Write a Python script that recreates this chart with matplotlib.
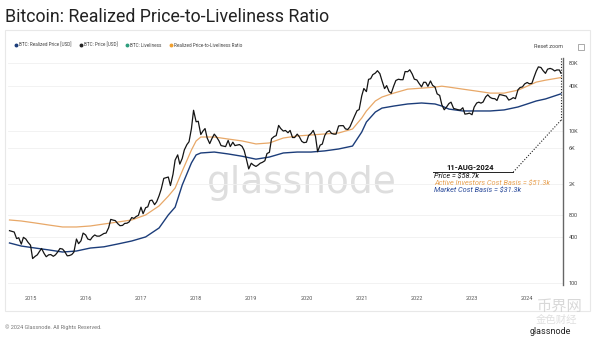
import matplotlib.pyplot as plt
import pandas as pd
from matplotlib.lines import Line2D
from matplotlib.patches import Rectangle

plt.rcParams['font.family'] = ['Roboto', 'Noto Sans CJK SC', 'DejaVu Sans']

# BTC price, semi-monthly (1st / 15th), Aug 2014 -> Aug 2024, last point 11-Aug-2024
price_dates = list(pd.date_range('2014-08-15', '2024-08-01', freq='SMS')) + [pd.Timestamp('2024-08-11')]
price = [490, 478, 470, 385, 395, 325, 400, 380, 345,
         315, 210, 225, 235, 260, 285, 245, 222, 235, 237, 225, 235, 258, 285, 280, 260, 228, 230, 237, 255, 380, 330, 360, 455,
         430, 380, 370, 405, 430, 415, 415, 430, 450, 455, 535, 690, 675, 665, 605, 570, 575, 610, 615, 640, 730, 710, 755, 780,
         1000, 820, 985, 1010, 1220, 1240, 1080, 1180, 1420, 1730, 2400, 2450, 2500, 1930, 2720, 4180, 4900, 3700, 4400, 5700, 6700, 7300, 10900, 19000,
         13400, 13600, 9100, 10100, 10900, 8200, 6900, 8000, 9200, 8500, 7500, 6500, 6400, 6300, 7600, 6300, 7200, 6500, 6600, 6700, 6350, 5600, 4200, 3200,
         3800, 3600, 3450, 3600, 3800, 3900, 4100, 5100, 5300, 8000, 8550, 8800, 12000, 10900, 10100, 10300, 9600, 10300, 8300, 8300, 9200, 8500, 7400, 7100,
         7200, 8800, 9400, 10300, 8600, 5400, 6600, 6800, 8800, 9800, 10200, 9400, 9200, 9200, 11800, 11900, 11900, 10800, 10600, 11500, 13800, 16000, 18800, 19400,
         29400, 36800, 33500, 48600, 49600, 56000, 58800, 63200, 57800, 46700, 36700, 40200, 33500, 31800, 39900, 47000, 48800, 48100, 48100, 61600, 61300, 65000, 57200, 48900,
         47700, 43100, 38700, 44500, 44400, 39300, 46300, 40500, 38500, 31300, 29800, 22500, 19300, 20800, 23300, 24300, 20100, 19700, 19300, 19100, 20500, 16900, 17100, 17400,
         16600, 20900, 23700, 24300, 23600, 24400, 28500, 30400, 28100, 27200, 27000, 25600, 30600, 30300, 29700, 29200, 25900, 26600, 27900, 27000, 35400, 37900, 38700, 42300,
         44200, 42500, 43000, 51800, 62400, 71000, 69700, 63400, 58300, 66200, 67800, 66200, 62700, 64700, 64600, 58700]

# cost basis lines
basis_dates = pd.to_datetime([
    "2014-08-15", "2014-11-01", "2015-02-01", "2015-05-01", "2015-08-01", "2015-11-01",
    "2016-02-01", "2016-05-01", "2016-08-01", "2016-11-01", "2017-02-01", "2017-05-01",
    "2017-07-01", "2017-08-15", "2017-10-01", "2017-12-01", "2018-01-01", "2018-02-01",
    "2018-05-01", "2018-08-01", "2018-11-01", "2019-02-01", "2019-05-01", "2019-08-01",
    "2019-11-01", "2020-02-01", "2020-05-01", "2020-08-01", "2020-11-01", "2021-01-01",
    "2021-02-01", "2021-04-01", "2021-05-15", "2021-08-01", "2021-11-01", "2022-02-01",
    "2022-05-01", "2022-06-15", "2022-08-01", "2022-11-01", "2023-02-01", "2023-05-01",
    "2023-08-01", "2023-11-01", "2024-01-01", "2024-03-01", "2024-05-01", "2024-08-11"])
realized_price = [337, 307, 289, 273, 256, 264, 289, 300, 327, 358, 405, 532,
                  790, 1000, 1960, 3840, 4890, 5190, 5340, 5040, 4700, 4300, 4590, 5190,
                  5340, 5340, 5530, 5860, 6410, 9800, 13300, 18000, 20300, 21600, 23000, 23700,
                  23000, 21600, 19700, 18600, 18600, 18600, 19200, 21000, 23000, 25200, 26800, 31300]
active_basis = [678, 657, 619, 582, 548, 548, 565, 600, 637, 678, 790, 1040,
                1400, 1790, 2990, 5680, 7480, 8430, 8430, 7930, 7480, 6830, 7040, 8180,
                8700, 8970, 9250, 9530, 10750, 15000, 18600, 25200, 28400, 32000, 36100, 37200,
                38400, 39500, 38400, 36100, 34000, 32000, 32000, 35000, 39500, 44700, 47400, 51300]

y_ticks = [100, 400, 800, 2000, 6000, 10000, 40000, 80000]
y_labels = ["100", "400", "800", "2K", "6K", "10K", "40K", "80K"]
years = list(range(2015, 2025))

fig = plt.figure(figsize=(6, 3.44), dpi=100)

# panel border
fig.patches.append(Rectangle((5/600, 1-311/344), 585/600, 281/344, transform=fig.transFigure,
                             fill=False, edgecolor='#e8e8e8', lw=0.8))

ax = fig.add_axes([8/600, 1-285/344, 555/600, 227/344])
ax.set_yscale('log')
ax.set_ylim(94, 93000)
ax.set_xlim(pd.Timestamp('2014-08-05'), pd.Timestamp('2024-08-25'))

# watermark
ax.text(0.53, 0.45, 'glassnode', transform=ax.transAxes, fontsize=27, color='#dedede',
        ha='center', va='center', family='DejaVu Sans', zorder=0)

for v in y_ticks:
    ax.axhline(v, color='#f0f0f0', lw=0.6, zorder=0)

ax.plot(basis_dates, active_basis, color='#e8a868', lw=0.9, zorder=2)
ax.plot(basis_dates, realized_price, color='#1c3d7a', lw=1.0, zorder=2)
ax.plot(price_dates, price, color='#141414', lw=0.9, zorder=3)

ax.yaxis.tick_right()
ax.set_yticks(y_ticks)
ax.set_yticklabels(y_labels)
ax.minorticks_off()
ax.tick_params(axis='y', length=0, pad=4, labelsize=4, labelcolor='#444444')
ax.set_xticks([pd.Timestamp(f'{y}-01-01') for y in years])
ax.set_xticklabels([str(y) for y in years])
ax.tick_params(axis='x', length=0, pad=8, labelsize=4, labelcolor='#555555')
for s in ['top', 'left', 'bottom']:
    ax.spines[s].set_visible(False)
ax.spines['right'].set_color('#666666')
ax.spines['right'].set_linewidth(1.0)

# annotation for the last date
last = pd.Timestamp('2024-08-11')
ax.plot([last, last], [93000, 14000], color='#222222', lw=0.8, ls=(0, (1, 1.5)), zorder=4)
ax.plot([last, pd.Timestamp('2023-10-01')], [14000, 2910], color='#222222', lw=0.8, ls=(0, (1, 1.5)), zorder=4)
ax.plot([pd.Timestamp('2022-04-15'), pd.Timestamp('2023-10-01')], [2910, 2910], color='#222222', lw=0.7, zorder=4)
fig.text(470/600, 1-168/344, '11-AUG-2024', fontsize=5.5, fontweight='bold', ha='center', va='center', color='#111111')
fig.text(434/600, 1-176/344, 'Price = $58.7k', fontsize=5.3, style='italic', va='center', color='#111111')
fig.text(434/600, 1-183/344, 'Active Investors Cost Basis = $51.3k', fontsize=5.3, style='italic', va='center', color='#e8a050')
fig.text(434/600, 1-190/344, 'Market Cost Basis = $31.3k', fontsize=5.3, style='italic', va='center', color='#2a4a9a')

# title, legend, chrome
fig.text(5/600, 1-17/344, 'Bitcoin: Realized Price-to-Liveliness Ratio', fontsize=12.8, va='center', color='#222222')
handles = [Line2D([], [], marker='o', ls='', color=c, markersize=1.8)
           for c in ['#1c3d7a', '#222222', '#2e9e7e', '#f0a030']]
fig.legend(handles, ['BTC: Realized Price [USD]', 'BTC: Price [USD]', 'BTC: Liveliness', 'Realized Price-to-Liveliness Ratio'],
           loc='center left', bbox_to_anchor=(10/600, 1-45/344), ncol=4, frameon=False, fontsize=3.3,
           handletextpad=0.1, columnspacing=1.6, handlelength=1.0, labelcolor='#444444')
fig.text(548/600, 1-47/344, 'Reset zoom', fontsize=4, ha='center', va='center', color='#444444')
fig.patches.append(Rectangle((578/600, 1-50/344), 6/600, 6/344, transform=fig.transFigure,
                             fill=False, edgecolor='#888888', lw=0.5))
fig.text(5/600, 1-327/344, '© 2024 Glassnode. All Rights Reserved.', fontsize=4, va='center', color='#777777')
fig.text(560/600, 1-307/344, '币界网', fontsize=11, ha='center', va='center', color='#cfcfcf', alpha=0.8)
fig.text(556/600, 1-320/344, '金色财经', fontsize=7.5, ha='center', va='center', color='#d8d8d8', alpha=0.8)
fig.text(550/600, 1-332/344, 'glassnode', fontsize=6.5, ha='center', va='center', color='#222222')

fig.savefig('out.png', dpi=100)
